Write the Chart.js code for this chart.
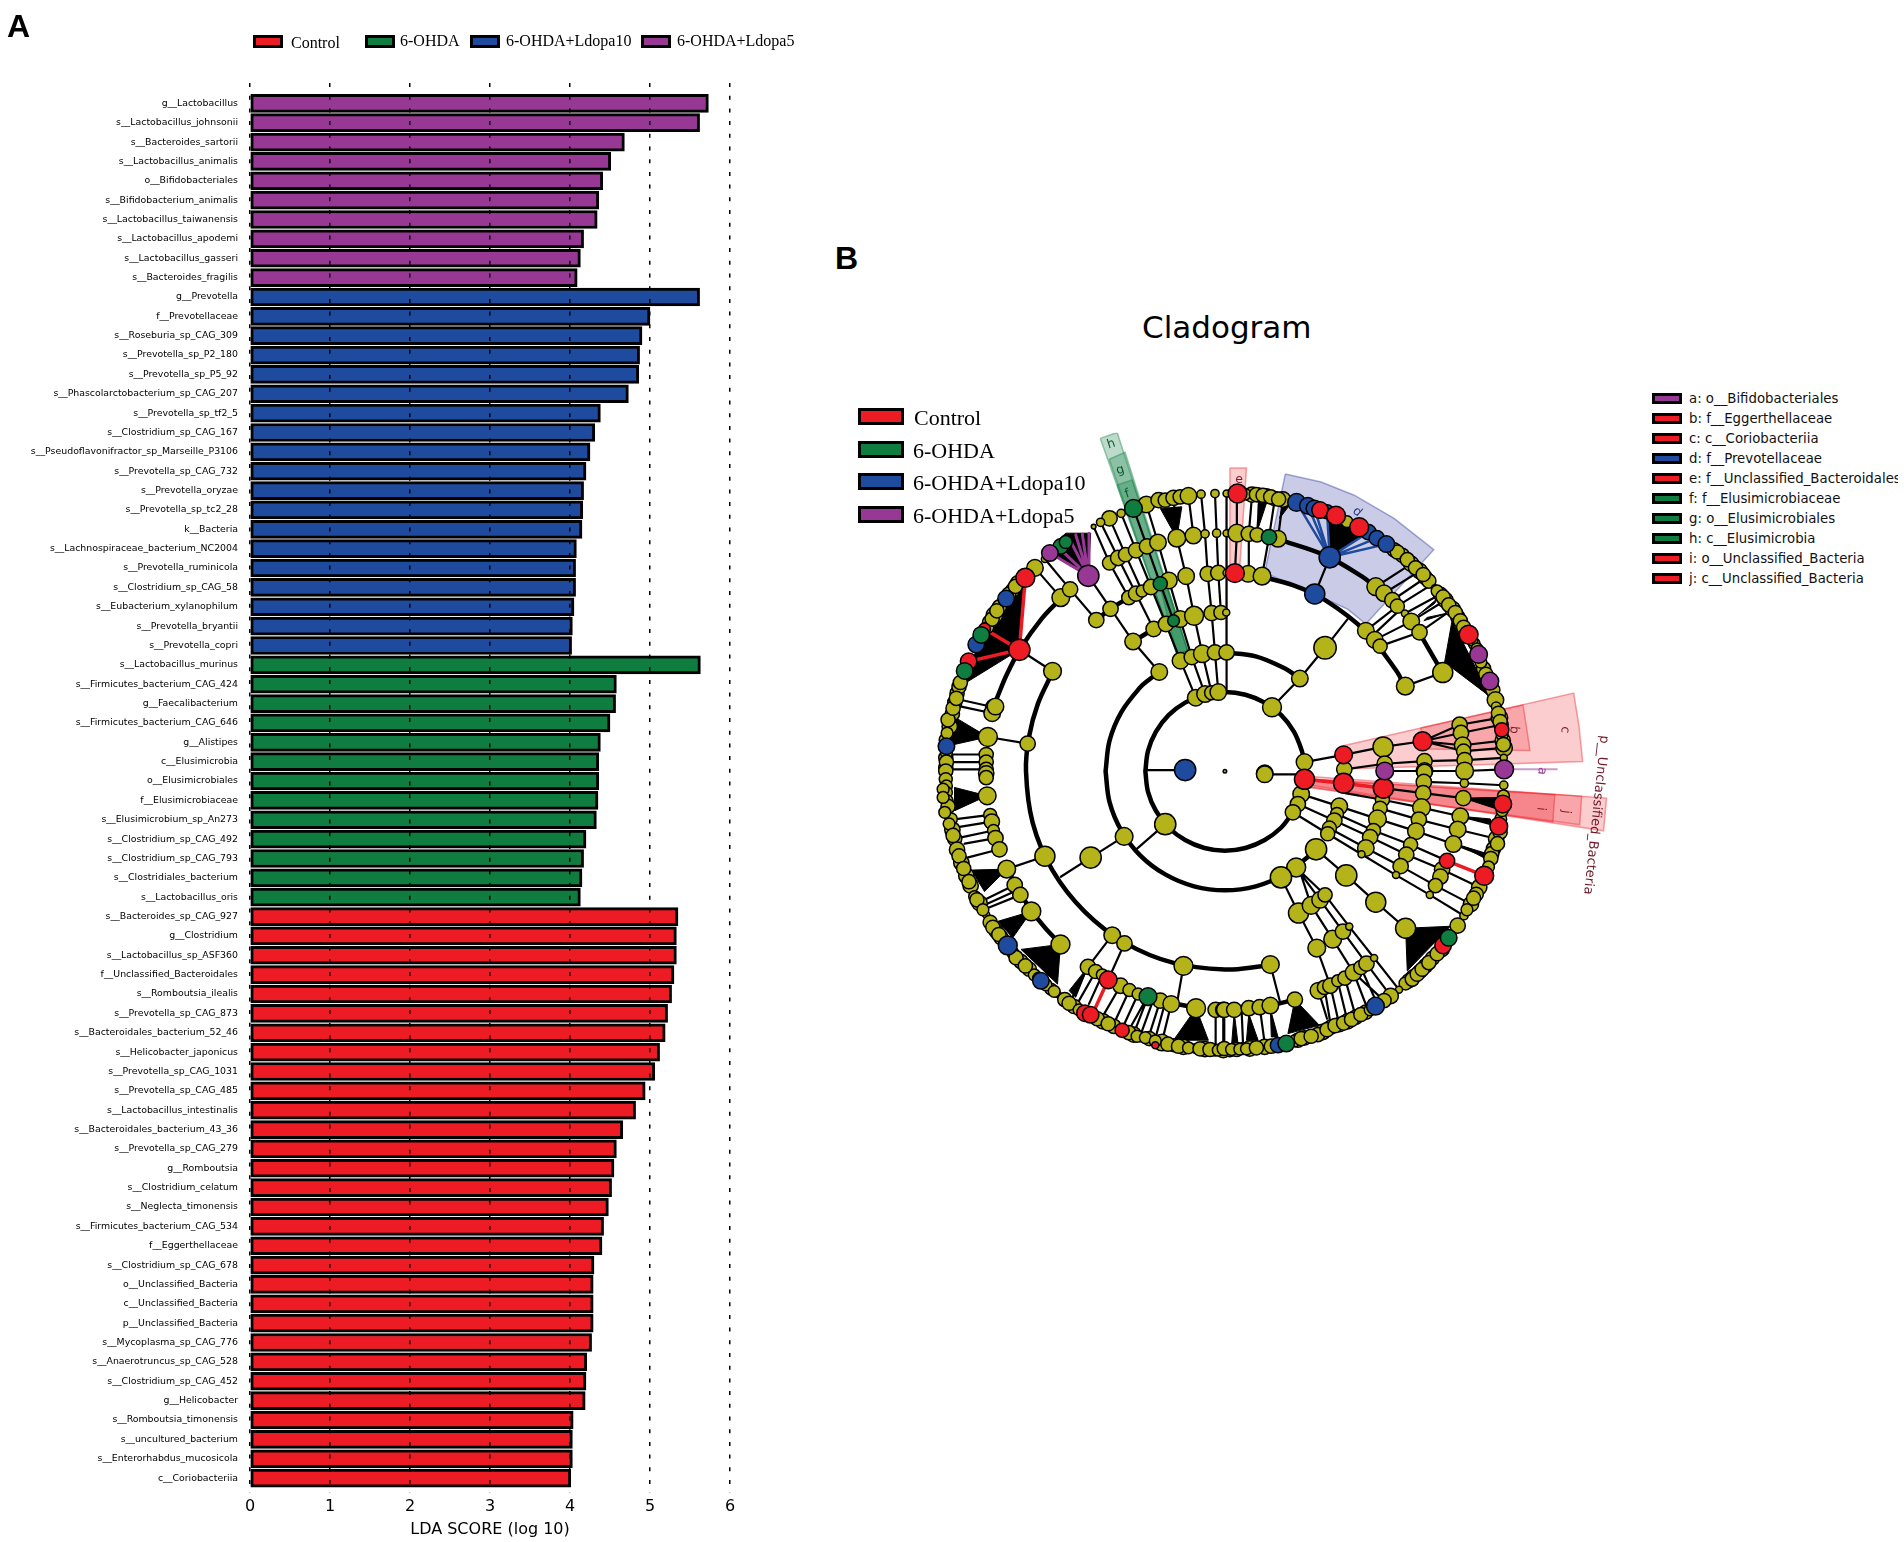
<!DOCTYPE html>
<html>
<head>
<meta charset="utf-8">
<title>LDA score and cladogram</title>
<script src="https://cdn.jsdelivr.net/npm/chart.js@4"></script>
<style>
    html, body { margin: 0; background: #fff; }
    #page { position: relative; width: 1904px; height: 1542px; overflow: hidden; }
    canvas { position: absolute; }
    .txt { position: absolute; white-space: pre; line-height: 1; color: #000; }
    .serif { font-family: "Liberation Serif", serif; }
    .sans { font-family: "DejaVu Sans", sans-serif; }
    .panel { font: bold 32px "Liberation Sans", sans-serif; }
    .box { position: absolute; box-sizing: border-box; border: 3px solid #000; }
    .tag { transform: translate(-50%, -50%); font: 12.5px "DejaVu Sans", sans-serif; }
</style>
</head>
<body>
<div id="page">
    <canvas id="ldaChart" width="800" height="1542" style="left:0;top:0"></canvas>
    <canvas id="cladogram" width="740" height="670" style="left:900px;top:420px"></canvas>
    <div class="txt panel" style="left:7px;top:8px">A</div>
    <div class="txt panel" style="left:835px;top:240px">B</div>
    <div class="txt sans" style="left:1142px;top:312px;font-size:31px">Cladogram</div>
</div>
<script>
const colors = { control: '#ed1c24', ohda: '#0f7d40', ldopa10: '#1f4b9f', ldopa5: '#963894', node: '#b5b31a', cladeBlue: '#2a2f9a' };

// ---- panel A values
const ldopa5Taxa = ['g__Lactobacillus', 's__Lactobacillus_johnsonii', 's__Bacteroides_sartorii', 's__Lactobacillus_animalis', 'o__Bifidobacteriales', 's__Bifidobacterium_animalis', 's__Lactobacillus_taiwanensis', 's__Lactobacillus_apodemi', 's__Lactobacillus_gasseri', 's__Bacteroides_fragilis'];
const ldopa5Scores = [5.73, 5.62, 4.68, 4.51, 4.41, 4.36, 4.34, 4.17, 4.13, 4.09];

const ldopa10Taxa = ['g__Prevotella', 'f__Prevotellaceae', 's__Roseburia_sp_CAG_309', 's__Prevotella_sp_P2_180', 's__Prevotella_sp_P5_92', 's__Phascolarctobacterium_sp_CAG_207', 's__Prevotella_sp_tf2_5', 's__Clostridium_sp_CAG_167', 's__Pseudoflavonifractor_sp_Marseille_P3106', 's__Prevotella_sp_CAG_732', 's__Prevotella_oryzae', 's__Prevotella_sp_tc2_28', 'k__Bacteria', 's__Lachnospiraceae_bacterium_NC2004', 's__Prevotella_ruminicola', 's__Clostridium_sp_CAG_58', 's__Eubacterium_xylanophilum', 's__Prevotella_bryantii', 's__Prevotella_copri'];
const ldopa10Scores = [5.62, 5.0, 4.9, 4.87, 4.86, 4.73, 4.38, 4.31, 4.25, 4.2, 4.17, 4.16, 4.15, 4.08, 4.07, 4.07, 4.05, 4.03, 4.02];

const ohdaTaxa = ['s__Lactobacillus_murinus', 's__Firmicutes_bacterium_CAG_424', 'g__Faecalibacterium', 's__Firmicutes_bacterium_CAG_646', 'g__Alistipes', 'c__Elusimicrobia', 'o__Elusimicrobiales', 'f__Elusimicrobiaceae', 's__Elusimicrobium_sp_An273', 's__Clostridium_sp_CAG_492', 's__Clostridium_sp_CAG_793', 's__Clostridiales_bacterium', 's__Lactobacillus_oris'];
const ohdaScores = [5.63, 4.58, 4.57, 4.5, 4.38, 4.36, 4.36, 4.35, 4.33, 4.2, 4.17, 4.15, 4.13];

const controlTaxa = ['s__Bacteroides_sp_CAG_927', 'g__Clostridium', 's__Lactobacillus_sp_ASF360', 'f__Unclassified_Bacteroidales', 's__Romboutsia_ilealis', 's__Prevotella_sp_CAG_873', 's__Bacteroidales_bacterium_52_46', 's__Helicobacter_japonicus', 's__Prevotella_sp_CAG_1031', 's__Prevotella_sp_CAG_485', 's__Lactobacillus_intestinalis', 's__Bacteroidales_bacterium_43_36', 's__Prevotella_sp_CAG_279', 'g__Romboutsia', 's__Clostridium_celatum', 's__Neglecta_timonensis', 's__Firmicutes_bacterium_CAG_534', 'f__Eggerthellaceae', 's__Clostridium_sp_CAG_678', 'o__Unclassified_Bacteria', 'c__Unclassified_Bacteria', 'p__Unclassified_Bacteria', 's__Mycoplasma_sp_CAG_776', 's__Anaerotruncus_sp_CAG_528', 's__Clostridium_sp_CAG_452', 'g__Helicobacter', 's__Romboutsia_timonensis', 's__uncultured_bacterium', 's__Enterorhabdus_mucosicola', 'c__Coriobacteriia'];
const controlScores = [5.35, 5.33, 5.33, 5.3, 5.27, 5.22, 5.19, 5.12, 5.06, 4.94, 4.82, 4.66, 4.58, 4.55, 4.52, 4.48, 4.42, 4.4, 4.3, 4.29, 4.29, 4.29, 4.27, 4.21, 4.2, 4.19, 4.04, 4.03, 4.03, 4.01];

const groupNames = ['Control', '6-OHDA', '6-OHDA+Ldopa10', '6-OHDA+Ldopa5'];
const groupColors = [colors.control, colors.ohda, colors.ldopa10, colors.ldopa5];

// ---- panel B values: [x, y, radius]
const yellowNW = [
    [38,865,6],[38,835,6],[50,740,6.5],[58,702,6],[65,668,6],[72,640,6],[78,620,6],[82,607,6],[170,425,6],[185,403,7],[200,378,6],[240,328,6],[255,305,6],[307,260,7],[337,233,3],
    [183,682,7],[178,700,7],[188,680,7],[165,772,8],[285,792,6.5],[360,573,7.5],[385,350,7.5],[413,325,6.5],[492,418,6.5],[535,384,6.5],[603,483,7],[682,575,7],
    [532,110,6.5],[505,122,3.5],[567,95,3.5],[484,135,2],[643,68,7],[680,55,6.5],[700,55,6],[725,48,6.5],[745,45,6],[770,42,7],[808,37,3.5],[850,35,3.5],
    [735,170,7.5],[785,162,7],[820,157,3.5],[855,155,3.5],[532,245,6],[558,230,6.5],[580,220,6],[612,207,6.5],[645,195,6.5],[678,183,7],
    [590,350,6],[612,338,6.5],[630,330,5],[657,318,6.5],[711,298,7],[763,285,7],[828,278,6.5],[860,275,6.5],
    [665,445,6.5],[702,430,6.5],[745,415,7],[787,405,8],[840,397,6.5],[868,395,6],
    [746,541,7],[780,530,6.5],[812,520,7.5],[850,516,6.5],[792,653,7],[820,642,7],[840,638,6],[860,636,7],
    [160,825,6],[160,848,6],[160,870,6],[40,820,5],[40,848,6],[880,876,1.5],
    [36,780,5],[42,760,5],[45,720,6],[60,685,6],[70,655,6],[165,440,5],[178,415,6],[192,390,6],[228,340,6],[248,316,6]
];
const yellowNE = [
    [15,35,3],[92,38,6.5],[115,40,6],[135,42,6],[160,50,6],[185,53,6.5],[378,120,5],[520,205,6],[545,222,6],[572,248,6.5],[598,270,6.5],[615,290,6],[625,300,6],[643,322,3],[660,340,6],[675,358,6.5],[697,385,6.5],[712,408,6],[762,490,5],[790,565,6],[818,630,6],[826,660,7],[828,680,4],[838,714,7],[843,735,6],[848,783,6.5],[852,805,7],[851,835,3],
    [15,155,3],[46,155,7.5],[82,157,6.5],[107,160,6],[170,172,7],[465,317,7.5],[490,337,7],[515,358,6.5],[530,376,6],[553,398,3],[572,422,7],[597,455,6.5],
    [15,275,3],[80,278,7],[122,285,7.5],[435,450,7],[462,478,7],[478,497,6],[14,395,3],[15,516,6.5],[312,502,9.5],[236,595,7],[554,618,7.5],[667,577,8.5],[152,682,8],[250,848,7],[487,802,8.5],
    [718,735,6.5],[722,760,6.5],[727,797,7],[730,815,6],[733,842,6.5],[733,875,7.5],[612,845,6.5],[612,875,7],[492,853,6.5],[370,870,6.5],[130,882,7],
    [70,37,5],[105,38,6],[125,40,6],[148,45,6],[172,52,6],[530,212,6],[560,235,6],[585,260,6],[608,280,6],[650,330,5],[668,348,6],[685,372,6],[705,395,6],[720,420,6],[730,440,6],[755,478,5],[770,505,5],[782,545,5],[797,582,6],[835,700,6],[840,725,6],[846,765,5],[850,795,6]
];
const yellowSW = [
    [38,5,6],[38,30,5.5],[40,50,5],[40,70,5],[42,95,5],[45,112,6],[55,150,5],[58,183,6.5],[65,210,6],[72,243,6.5],[85,283,6.5],[100,322,6.5],[113,352,6.5],[125,385,5],[140,405,6.5],[160,440,3],[172,463,6],[190,490,6],[205,510,6],[240,555,5],[265,582,6],[290,605,6],[305,622,5],[355,665,5],[375,680,3],[397,697,6],[425,718,6],[512,763,6.5],[545,778,6],[605,803,6.5],[625,810,4],[652,815,6],[690,827,7],[725,835,5.5],[755,840,6.5],[790,845,4],[820,847,6.5],[850,850,5],[875,850,6.5],
    [163,80,7.5],[172,138,5.5],[177,158,6.5],[182,185,5],[188,208,6.5],[200,242,6.5],[222,302,7.5],[246,350,6.5],[263,380,6.5],[296,430,8],[384,530,8],[337,263,8.5],[475,267,9],[576,203,7.5],[700,166,9],
    [540,502,7],[577,527,6.5],[755,595,8],[467,598,6.5],[490,612,6],[510,622,5],[565,655,6.5],[592,668,5.5],[618,680,5],[685,700,6.5],[718,710,7],[793,723,8],[852,728,6.5],[875,728,6.5],[160,12,6.5],[160,25,6],
    [30,60,5],[30,85,5],[35,130,5],[48,165,5],[60,200,6],[78,262,6],[92,300,6],[108,340,6],[132,395,6],[150,425,5],[180,478,6],[198,500,6],[250,570,6],[278,595,6],[318,632,5],[340,652,5],[365,672,5],[410,708,6],[440,728,5],[495,755,6],[528,770,6],[590,797,6],[615,808,5],[640,812,5],[670,822,5],[708,832,6],[740,838,6],[770,843,5],[805,846,6],[835,848,6],[860,850,5],[895,852,5]
];
const yellowSE = [
    [130,15,7],[612,8,6.5],[610,38,6.5],[608,72,6.5],[603,116,7.5],[595,152,6.5],[586,187,7],[570,228,6],[557,258,6.5],[540,293,6.5],[526,320,3],[732,42,3.5],[851,48,3.5],[729,87,6.5],[850,80,5],[720,142,7],[712,182,7],[699,226,7],[842,150,5],[828,210,6.5],[820,240,6],[815,255,6],[812,270,6],[665,303,6.5],[660,325,6.5],[645,352,6],[628,380,3],[777,357,6.5],[768,378,6],[752,408,6.5],[731,443,3.5],[712,473,6.5],[665,545,6],[636,572,6],[615,595,6],[598,612,6],[578,628,6],[565,640,6],[555,648,5.5],
    [240,75,7],[230,105,6.5],[215,130,6.5],[355,112,7],[348,135,5.5],[340,155,6.5],[325,178,6],[320,195,6],[485,92,6],[478,118,6],[470,150,7.5],[458,185,6],[448,205,6.5],[435,238,7],[422,257,3],
    [285,242,9],[376,321,9],[465,402,8.5],[555,481,8.5],[225,297,8],[179,327,9],[232,435,8.5],[270,412,7.5],[297,395,7],[312,380,6],[335,514,7.5],[366,491,6.5],[385,476,3],[287,541,7.5],
    [292,670,7],[310,660,6],[328,655,6.5],[350,640,5],[372,632,6],[398,615,7],[420,600,6],[437,588,6.5],[460,571,3],[147,591,7.5],[221,697,6.5],
    [535,667,3],[510,686,6.5],[490,700,6],[435,735,6],[405,750,6],[380,763,6.5],[355,773,6],[330,780,6],[305,795,6.5],[290,803,6],[250,813,6],[230,820,6],[210,825,4],[130,840,6.5],[85,845,6.5],[65,845,5],[45,848,6],[8,845,6],
    [8,728,6.5],[38,728,6.5],[82,723,6.5],[115,720,6.5],[147,715,7],
    [30,848,5],[55,847,5],[75,846,5],[105,843,6],[150,838,6],[220,822,5],[240,815,6],[270,808,6],[318,788,6],[342,776,6],[368,768,6],[392,757,6],[420,742,6],[448,728,5],
    [575,635,6],[590,620,6],[605,605,6],[625,585,6],[650,558,6],[846,125,5],[840,190,6],[832,225,6],[805,295,5],[760,390,6],[740,425,5]
];

const blueNW = [[40,800,7],[130,492,7],[220,353,7],[760,872,9]];
const blueNE = [[226,62,7.5],[260,72,7],[280,80,7],[318,90,6],[443,152,6.5],[468,170,6.5],[497,188,7],[326,228,9],[281,339,8.5]];
const blueSW = [[225,533,8],[325,640,7]];
const blueSE = [[464,717,7.5],[170,835,6.5]];

const redNW = [[278,290,8],[260,508,9],[107,543,7],[155,445,5],[368,205,4]];
const redNE = [[48,35,8],[297,85,7],[345,102,8],[415,137,8],[40,276,8],[745,462,8],[845,750,6],[368,826,7.5],[606,785,8]];
const redSW = [[458,738,7],[475,743,7],[570,790,6],[528,637,7.5],[670,835,3]];
const redSE = [[250,30,8.5],[368,42,8.5],[488,57,8.5],[848,105,7.5],[836,172,7.5],[680,277,6.5],[792,322,8],[668,533,7]];

const greenNW = [[95,572,7],[145,463,7],[385,195,6.5],[400,182,5.5],[604,80,7.5],[685,308,6],[725,420,5]];
const greenNE = [[143,167,6.5]];
const greenSW = [[648,688,7.5]];
const greenSE = [[685,510,7],[195,830,7]];

const purpleNW = [[352,215,7],[468,284,9]];
const purpleNE = [[775,522,7.5],[809,603,7.5],[852,870,8],[492,875,7.5]];

// branches, each one x1,y1,x2,y2,...
const edgesNW = [
    [640,872,760,872],[682,575,603,483,468,284],[492,418,413,325,337,233],[360,573,260,508],[285,792,165,772],[385,350,307,260],
    [183,682,85,660],[178,700,85,680],[160,825,60,825],[160,848,60,848],[160,870,60,870],
    [792,653,746,541,702,430,657,318,612,207,567,95],[820,642,780,530,745,415,711,298,678,183,643,68],[840,638,812,520,787,405,763,285,735,170,725,48],[860,636,850,516,840,397,828,278,820,157,808,37],[885,636,885,35],
    [868,395,860,275,855,155,850,35],[665,445,612,338,558,230,505,122],[590,350,532,245,484,135],[630,330,580,220,532,110],[725,420,685,308,645,195,604,80],[785,162,770,42]
];
const edgesNE = [
    [46,155,46,35],[40,276,46,155],[15,516,14,395,15,275,15,155,15,35],[82,157,92,38],[107,160,115,40],[170,172,185,53],[143,167,160,55],[80,278,82,157],[122,285,143,167],
    [326,228,281,339],[312,502,380,415],[312,502,236,595,152,682],[554,618,667,577],
    [435,450,530,376,635,310],[462,478,572,422,675,358],[478,497,597,455,697,385],[465,317,572,248],[490,337,598,270],[515,358,615,290],[553,398,660,340],[455,465,540,385],
    [250,848,368,826,487,802,606,785,718,735,838,714],[606,785,722,760,843,735],[606,785,727,797,848,783],[606,785,733,815,852,805],[370,870,492,853,612,845,733,842,851,835],[492,875,612,875,733,875,852,870]
];
const edgesSW = [
    [337,263,222,302],[475,267,385,325],[475,267,576,203],[700,166,615,240],[540,502,467,598],[577,527,528,637],[755,595,735,710],
    [172,138,75,150],[177,158,75,175],[182,185,88,205],[188,208,95,225],[200,242,100,268],[246,350,155,395],[263,380,165,420],[255,365,160,408],
    [467,598,420,690],[490,612,440,700],[510,622,470,710],[565,655,510,750],[592,668,545,770],[618,680,570,785],[648,688,605,800],[685,700,650,810],[718,710,690,825],[852,728,852,840],[875,728,875,845],[640,700,590,790],[665,695,625,805],[700,705,670,815]
];
const edgesSE = [
    [130,15,250,15],[240,75,355,112,470,150,586,187,699,226,812,270],[230,105,340,155,448,205,557,258,665,303,777,357],[215,130,320,195,422,257,526,320,628,380,731,443],[348,135,458,185,570,228,680,277,792,322],[325,178,435,238,540,293,645,352,752,408],[250,30,368,42,488,57,608,72,729,87,848,105],[372,72,485,92,603,116,720,142,836,172],[478,118,595,152,712,182,828,210],[610,38,732,42,851,48],
    [285,242,376,321,465,402,555,481],[179,327,232,435,287,541,328,655,355,773],[225,297,312,380,385,476,460,571,535,667],[225,297,297,395,366,491,437,588,510,686],[240,320,270,412,335,514,398,615,490,700],[398,615,440,725],[372,632,405,750],[350,640,380,763],[310,660,330,780],[292,670,318,755],[420,600,465,700],
    [147,591,175,700],[115,720,130,830],[8,728,8,830],[60,723,65,840]
];

// filled black fans: x1,y1,x2,y2,...
const solidsNW = [[260,508,278,290,200,400,150,450,95,610],[165,772,70,715,40,800],[735,170,685,80,750,75],[468,284,340,210,400,155,475,155]];
const solidsNE = [[667,577,695,420,810,650,672,545],[326,228,320,95,443,150],[110,65,135,65,112,135],[175,110,185,70,205,70],[660,345,590,405,640,370],[690,395,620,410,610,420]];
const solidsSW = [[222,302,115,305,155,370],[296,430,195,460,240,510],[384,530,265,545,375,650],[163,80,65,55,65,125],[793,723,725,820,830,820],[467,598,410,670,430,690]];
const solidsSE = [[555,481,690,475,560,610],[221,697,200,800,295,775],[729,87,830,85,830,120],[720,142,810,150,810,165],[720,230,800,255,795,270],[82,740,75,820,110,820],[38,735,30,835,50,835],[147,725,150,810,170,810]];

const redEdgesNW = [[260,508,278,290],[260,508,155,445],[260,508,107,543]];
const redEdgesSW = [[528,637,490,720]];
const redEdgesSE = [[250,30,368,42,488,57],[680,277,792,322]];
const purpleEdgesNW = [[468,284,352,215],[468,284,380,200],[468,284,410,170],[468,284,430,160],[468,284,450,158],[468,284,470,155]];
const blueEdgesNE = [[326,228,226,62],[326,228,260,72],[326,228,280,80],[326,228,318,90],[326,228,443,152],[326,228,468,170],[326,228,497,188]];

// thick rings of the tree, in one shared frame
const ringArcs = [
    [640,876,648,814,672,756,710,706,760,668,818,644,880,636,942,644,1000,668,1050,706,1088,756,1112,814,1118,843],
    [640,876,648,938,672,996,710,1046,760,1084,818,1108,880,1116,942,1108,1000,1084,1050,1046,1083,1003],
    [520,876,532,783,568,696,625,621,649,600,684,574],
    [880,516,973,528,1060,564,1097,588],
    [520,876,532,969,568,1056,625,1131,700,1188,787,1224,880,1236,973,1224,1060,1188,1135,1131,1152,1112],
    [360,576,316,671,289,772,280,876,300,1031,360,1176,456,1300,580,1396,725,1456,880,1476,984,1467,1015,1461],
    [984,285,1085,312,1180,356,1304,452,1400,576,1419,613],
    [190,660,222,583,263,505,328,413,389,349],
    [1042,174,1184,223,1293,286,1333,317],
    [1470,463,1533,572],
    [227,1180,290,1289,345,1358,389,1403],
    [488,1480,576,1528,694,1571,792,1591],
    [492,418,535,384,590,350],[603,483,665,445],[1091,1567,1017,1585]
];

// highlighted clades
const cladeShapes = [
    [1062,-24,1170,0,1270,40,1390,110,1510,205,1305,430,1250,385,1151,339,1000,275],
    [1230,800,1932,639,1948,740,1959,846,1260,868],
    [1470,745,1779,675,1790,745,1800,813,1490,808],
    [1120,890,2031,957,2022,1056,1120,915],
    [1140,900,1956,951,1950,1038,1140,925],
    [1140,900,1875,947,1869,1029,1140,925],
    [895,-42,945,-42,925,255,893,255],
    [504,-132,555,-150,768,512,735,520],
    [531,-69,579,-90,768,512,735,520],
    [555,9,600,-6,768,512,735,520],
    [680,300,700,295,768,512,735,520]
];
const cladeColors = [colors.cladeBlue, colors.control, colors.control, colors.control, colors.control, colors.control, colors.control, colors.ohda, colors.ohda, colors.ohda, colors.ohda];
const cladeFill = [0.25, 0.22, 0.22, 0.22, 0.22, 0.22, 0.22, 0.28, 0.28, 0.28, 0.4];
const cladeMarkerA = [1722,870,1881,870];

const cladeLegend = ['a: o__Bifidobacteriales', 'b: f__Eggerthellaceae', 'c: c__Coriobacteriia', 'd: f__Prevotellaceae', 'e: f__Unclassified_Bacteroidales', 'f: f__Elusimicrobiaceae', 'g: o__Elusimicrobiales', 'h: c__Elusimicrobia', 'i: o__Unclassified_Bacteria', 'j: c__Unclassified_Bacteria'];
const cladeLegendColors = [colors.ldopa5, colors.control, colors.control, colors.ldopa10, colors.control, colors.ohda, colors.ohda, colors.ohda, colors.control, colors.control];

// ---- panel A
const taxa = ldopa5Taxa.concat(ldopa10Taxa, ohdaTaxa, controlTaxa);

function barSeries(label, color, scores, start) {
    return {
        label: label,
        data: scores.map((v, i) => ({ x: v, y: start + i })),
        backgroundColor: color,
        borderColor: '#000',
        borderWidth: 3,
        borderSkipped: false,
        barThickness: 18,
        grouped: false
    };
}

new Chart(document.getElementById('ldaChart'), {
    type: 'bar',
    data: {
        datasets: [
            barSeries(groupNames[3], colors.ldopa5, ldopa5Scores, 0),
            barSeries(groupNames[2], colors.ldopa10, ldopa10Scores, ldopa5Taxa.length),
            barSeries(groupNames[1], colors.ohda, ohdaScores, ldopa5Taxa.length + ldopa10Taxa.length),
            barSeries(groupNames[0], colors.control, controlScores, ldopa5Taxa.length + ldopa10Taxa.length + ohdaTaxa.length)
        ]
    },
    options: {
        indexAxis: 'y',
        responsive: false,
        animation: false,
        layout: { padding: { top: 83, right: 70, bottom: 2.5 } },
        plugins: { legend: { display: false }, tooltip: { enabled: false } },
        scales: {
            x: {
                type: 'linear',
                min: 0,
                max: 6,
                afterFit: (scale) => { scale.height = 46.9; },
                ticks: { stepSize: 1, padding: 5, color: '#000', font: { family: 'DejaVu Sans', size: 16 } },
                grid: { z: 1, color: '#000', lineWidth: 1.5, drawTicks: false },
                border: { display: false, dash: [4, 8.7] },
                title: { display: true, text: 'LDA SCORE (log 10)', color: '#000', padding: 0, font: { family: 'DejaVu Sans', size: 16 } }
            },
            y: {
                type: 'linear',
                reverse: true,
                offset: false,
                min: -1.05,
                max: 71.75,
                afterFit: (scale) => { scale.width = 250; },
                grid: { display: false },
                border: { display: false },
                ticks: {
                    stepSize: 1,
                    autoSkip: false,
                    padding: 4,
                    color: '#000',
                    font: { family: 'DejaVu Sans', size: 9.4 },
                    callback: (v) => taxa[v] || ''
                }
            }
        }
    }
});

// ---- panel B
const quarter = { NW: [0, 0], NE: [870, 0], SW: [0, 870], SE: [870, 870] };
const nodeGrow = 1.18;

function bubbles(color, order, lists) {
    const data = [];
    Object.entries(lists).forEach(([q, list]) => {
        list.forEach(n => data.push({ x: n[0] + quarter[q][0], y: n[1] + quarter[q][1], r: n[2] * nodeGrow }));
    });
    return { type: 'bubble', data: data, backgroundColor: color, borderColor: '#000', borderWidth: 1.5, order: order };
}

// chains become one line with null gaps
function chainPoints(chains, dx, dy) {
    const data = [];
    chains.forEach(c => {
        for (let i = 0; i < c.length; i += 2) {
            data.push({ x: c[i] + dx, y: c[i + 1] + dy });
        }
        data.push({ x: null, y: null });
    });
    return data;
}

function lines(color, width, order, lists, tension) {
    let data = [];
    Object.entries(lists).forEach(([q, chains]) => {
        data = data.concat(chainPoints(chains, quarter[q][0], quarter[q][1]));
    });
    return {
        type: 'scatter', data: data, showLine: true, pointRadius: 0, borderColor: color, borderWidth: width,
        tension: tension || 0, order: order, borderCapStyle: 'round'
    };
}

function solid(points, dx, dy, fill, edge, width, order) {
    const data = chainPoints([points.concat(points.slice(0, 2))], dx, dy);
    data.pop();
    return {
        type: 'scatter', data: data, showLine: true, pointRadius: 0, fill: 'shape',
        backgroundColor: fill, borderColor: edge, borderWidth: width, order: order
    };
}

function alpha(hex, a) {
    const n = parseInt(hex.slice(1), 16);
    return 'rgba(' + (n >> 16) + ',' + ((n >> 8) & 255) + ',' + (n & 255) + ',' + a + ')';
}

const cladoSets = [];
cladeShapes.forEach((s, i) => {
    cladoSets.push(solid(s, 0, 0, alpha(cladeColors[i], cladeFill[i]), alpha(cladeColors[i], 0.4), 1.5, 50));
});
Object.entries({ NW: solidsNW, NE: solidsNE, SW: solidsSW, SE: solidsSE }).forEach(([q, list]) => {
    list.forEach(s => cladoSets.push(solid(s, quarter[q][0], quarter[q][1], '#000', '#000', 1, 20)));
});
cladoSets.push(lines('#000', 2.2, 10, { NW: edgesNW, NE: edgesNE, SW: edgesSW, SE: edgesSE }));
cladoSets.push(lines('#000', 4.5, 10, { NW: ringArcs }, 0.35));
cladoSets.push(lines(colors.control, 3.5, 6, { NW: redEdgesNW, SW: redEdgesSW, SE: redEdgesSE }));
cladoSets.push(lines(colors.ldopa5, 3, 6, { NW: purpleEdgesNW }));
cladoSets.push(lines(colors.ldopa10, 2.5, 6, { NE: blueEdgesNE }));
cladoSets.push(lines(alpha(colors.ldopa5, 0.5), 2, 6, { NW: [cladeMarkerA] }));
cladoSets.push(bubbles(colors.node, 5, { NW: yellowNW, NE: yellowNE, SW: yellowSW, SE: yellowSE }));
cladoSets.push(bubbles(colors.ldopa10, 4, { NW: blueNW, NE: blueNE, SW: blueSW, SE: blueSE }));
cladoSets.push(bubbles(colors.control, 3, { NW: redNW, NE: redNE, SW: redSW, SE: redSE }));
cladoSets.push(bubbles(colors.ohda, 2, { NW: greenNW, NE: greenNE, SW: greenSW, SE: greenSE }));
cladoSets.push(bubbles(colors.ldopa5, 1, { NW: purpleNW, NE: purpleNE }));

new Chart(document.getElementById('cladogram'), {
    type: 'bubble',
    data: { datasets: cladoSets },
    options: {
        responsive: false,
        animation: false,
        plugins: { legend: { display: false }, tooltip: { enabled: false } },
        scales: {
            x: { type: 'linear', display: false, min: -61.7, max: 2093.6 },
            y: { type: 'linear', display: false, reverse: true, min: -149.2, max: 1802.2 }
        }
    }
});

// ---- legends and clade letters
const page = document.getElementById('page');

function addBox(x, y, w, h, color) {
    const b = document.createElement('div');
    b.className = 'box';
    b.style.cssText = 'left:' + x + 'px;top:' + y + 'px;width:' + w + 'px;height:' + h + 'px;background:' + color;
    page.appendChild(b);
}

function addText(text, cls, css) {
    const t = document.createElement('div');
    t.className = 'txt ' + cls;
    t.textContent = text;
    t.style.cssText = css;
    page.appendChild(t);
}

const topBoxX = [253, 365, 470, 641];
const topTextX = [291, 400, 506, 677];
const topTextY = [35, 33, 33, 33];
groupNames.forEach((name, i) => {
    addBox(topBoxX[i], 35, 30, 13, groupColors[i]);
    addText(name, 'serif', 'left:' + topTextX[i] + 'px;top:' + topTextY[i] + 'px;font-size:16px');
});

const sideBoxY = [408, 441, 473, 506];
const sideTextY = [407, 440, 472, 505];
groupNames.forEach((name, i) => {
    addBox(858, sideBoxY[i], 46, 17, groupColors[i]);
    addText(name, 'serif', 'left:' + (i ? 913 : 914) + 'px;top:' + sideTextY[i] + 'px;font-size:22px');
});

cladeLegend.forEach((name, i) => {
    addBox(1652, 392.5 + i * 20, 30, 11, cladeLegendColors[i]);
    addText(name, 'sans', 'left:1689px;top:' + (390 + i * 20) + 'px;font-size:13.3px;line-height:1.3;width:209px;overflow:hidden;color:#111');
});

const tagText = ['a', 'b', 'c', 'd', 'e', 'f', 'g', 'h', 'i', 'j', 'p__Unclassified_Bacteria'];
const tagX = [1543, 1515, 1566, 1358, 1239, 1127, 1120, 1111, 1542, 1567, 1596];
const tagY = [771, 730, 730, 511, 478, 493, 469, 443, 809, 812, 815];
const tagTurn = [96, 96, 96, 40, 0, -18, -18, -18, 96, 96, 96];
const tagColor = ['#963894', '#7a1d25', '#7a1d25', '#1f3c80', '#7a1d25', '#0b5a2d', '#0b5a2d', '#0b5a2d', '#7a1d25', '#7a1d25', '#6e1a2a'];
tagText.forEach((t, i) => {
    addText(t, 'tag', 'left:' + tagX[i] + 'px;top:' + tagY[i] + 'px;transform:translate(-50%,-50%) rotate(' + tagTurn[i] + 'deg);color:' + tagColor[i] + (i === 10 ? ';font-size:13px;line-height:1.3' : ''));
});
</script>
</body>
</html>
